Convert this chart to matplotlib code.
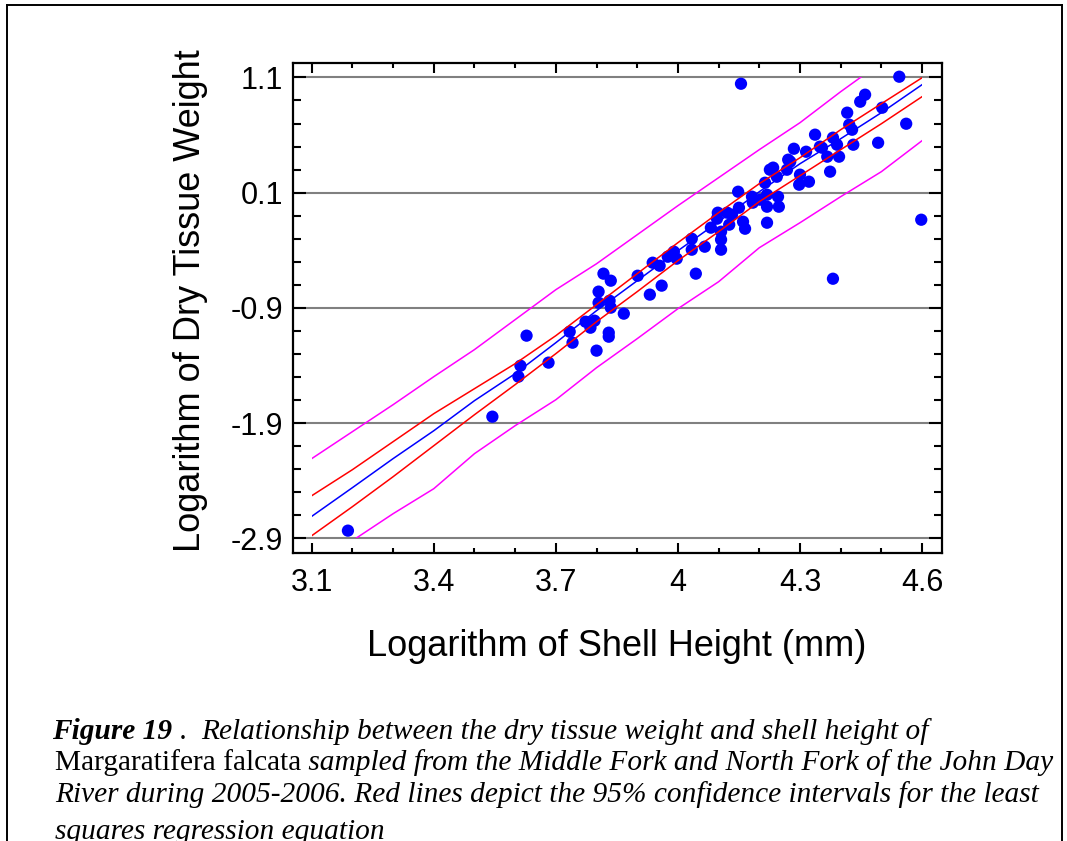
import matplotlib
matplotlib.use('Agg')
import matplotlib.pyplot as plt
from matplotlib.lines import Line2D
from matplotlib.patches import Rectangle
from matplotlib.ticker import FixedLocator, MultipleLocator

# log shell height (mm) and log dry tissue weight
shell_height = [
    3.189, 3.544, 3.628, 3.613, 3.608, 3.682, 3.734, 3.741, 3.773, 3.785,
    3.795, 3.800, 3.805, 3.805, 3.817, 3.835, 3.832, 3.835, 3.830, 3.830,
    3.867, 3.901, 3.931, 3.938, 3.955, 3.960, 3.975, 3.990, 3.997, 4.034,
    4.034, 4.044, 4.066, 4.081, 4.096, 4.106, 4.106, 4.106, 4.098, 4.121,
    4.133, 4.148, 4.150, 4.160, 4.165, 4.155, 4.182, 4.184, 4.202, 4.214,
    4.219, 4.219, 4.219, 4.226, 4.234, 4.246, 4.248, 4.243, 4.268, 4.271,
    4.276, 4.285, 4.298, 4.300, 4.315, 4.322, 4.337, 4.349, 4.354, 4.367,
    4.374, 4.381, 4.391, 4.396, 4.381, 4.416, 4.421, 4.428, 4.431, 4.448,
    4.460, 4.492, 4.502, 4.544, 4.561, 4.598, 4.126,
]
dry_weight = [
    -2.833, -1.844, -1.141, -1.402, -1.497, -1.375, -1.107, -1.202, -1.020, -1.072,
    -1.011, -1.271, -0.759, -0.855, -0.603, -0.664, -0.838, -0.898, -1.115, -1.150,
    -0.950, -0.621, -0.785, -0.508, -0.534, -0.707, -0.456, -0.412, -0.473, -0.300,
    -0.395, -0.603, -0.369, -0.204, -0.126, -0.239, -0.308, -0.395, -0.074, -0.074,
    -0.091, 0.108, -0.031, -0.152, -0.213, 1.045, 0.065, 0.013, 0.039, 0.186,
    0.082, -0.022, -0.161, 0.299, 0.317, 0.065, -0.022, 0.238, 0.299, 0.386,
    0.369, 0.481, 0.169, 0.256, 0.455, 0.195, 0.603, 0.499, 0.490, 0.412,
    0.282, 0.577, 0.516, 0.412, -0.647, 0.794, 0.690, 0.646, 0.516, 0.889,
    0.950, 0.533, 0.837, 1.106, 0.698, -0.135, -0.178,
]

# fitted line and bands, read at every 0.1 of x
line_x = [3.1, 3.2, 3.3, 3.4, 3.5, 3.6, 3.7, 3.8, 3.9, 4.0, 4.1, 4.2, 4.3, 4.4, 4.5, 4.6]
fit_y = [-2.709, -2.460, -2.208, -1.966, -1.705, -1.471, -1.202, -0.924,
         -0.664, -0.404, -0.152, 0.108, 0.351, 0.568, 0.794, 1.037]
ci_upper = [-2.530, -2.304, -2.061, -1.818, -1.601, -1.384, -1.141, -0.872,
            -0.603, -0.334, -0.074, 0.178, 0.403, 0.646, 0.872, 1.097]
ci_lower = [-2.877, -2.625, -2.365, -2.096, -1.827, -1.566, -1.297, -1.020,
            -0.759, -0.490, -0.239, 0.022, 0.247, 0.473, 0.698, 0.933]
pi_upper = [-2.208, -1.974, -1.740, -1.497, -1.262, -1.002, -0.742, -0.517,
            -0.265, -0.013, 0.230, 0.473, 0.707, 0.976, 1.230, 1.480]
pi_lower = [-3.137, -2.920, -2.686, -2.469, -2.165, -1.922, -1.697, -1.419,
            -1.167, -0.907, -0.673, -0.378, -0.161, 0.065, 0.282, 0.551]

x_ticks = [3.1, 3.4, 3.7, 4.0, 4.3, 4.6]
x_tick_labels = ['3.1', '3.4', '3.7', '4', '4.3', '4.6']
y_ticks = [-2.9, -1.9, -0.9, 0.1, 1.1]
y_tick_labels = ['-2.9', '-1.9', '-0.9', '0.1', '1.1']

W, H = 1067, 841
fig = plt.figure(figsize=(W / 100, H / 100), dpi=100)
ax = fig.add_axes([293 / W, 1 - 553 / H, (942 - 293) / W, (553 - 63) / H])

ax.set_xlim(3.054, 4.649)
ax.set_ylim(-3.027, 1.225)

for yv in y_ticks:
    ax.axhline(yv, color='#808080', lw=1.5, zorder=1)

ax.scatter(shell_height, dry_weight, s=78, color='#0000ff', edgecolors='none', zorder=3)

clip = Rectangle((3.1, -2.9), 1.5, 4.0, transform=ax.transData)
for ys, col in [(pi_upper, '#ff00ff'), (pi_lower, '#ff00ff'),
                (ci_upper, '#ff0000'), (ci_lower, '#ff0000'), (fit_y, '#0000ff')]:
    ln, = ax.plot(line_x, ys, color=col, lw=1.1, zorder=4)
    ln.set_clip_path(clip)

ax.xaxis.set_major_locator(FixedLocator(x_ticks))
ax.set_xticklabels(x_tick_labels)
ax.xaxis.set_minor_locator(MultipleLocator(0.1))
ax.yaxis.set_major_locator(FixedLocator(y_ticks))
ax.set_yticklabels(y_tick_labels)
ax.yaxis.set_minor_locator(FixedLocator([-2.7, -2.5, -2.3, -2.1, -1.7, -1.5, -1.3, -1.1,
                                         -0.7, -0.5, -0.3, -0.1, 0.3, 0.5, 0.7, 0.9]))

ax.tick_params(which='both', direction='in', top=True, right=True, width=1.5,
               labelsize=22, colors='black')
ax.tick_params(axis='x', which='major', length=7.5, pad=11)
ax.tick_params(axis='x', which='minor', length=3.8)
ax.tick_params(axis='y', which='major', length=9.5, pad=7)
ax.tick_params(axis='y', which='minor', length=5.5)
for lab in ax.get_xticklabels() + ax.get_yticklabels():
    lab.set_fontfamily('Liberation Sans')
for sp in ax.spines.values():
    sp.set_linewidth(1.6)

fig.text(617 / W, 1 - 647 / H, 'Logarithm of Shell Height (mm)', ha='center', va='center',
         fontsize=26, family='Liberation Sans')
fig.text(190 / W, 1 - 301 / H, 'Logarithm of Dry Tissue Weight', ha='center', va='center',
         rotation=90, fontsize=26, family='Liberation Sans')

# page frame
for xs, ys in [([7, 7], [5, H]), ([7, 1062], [5, 5]), ([1062, 1062], [5, H])]:
    fig.add_artist(Line2D([x / W for x in xs], [1 - y / H for y in ys],
                          color='black', lw=1.4))

# caption, pieces laid out one after another
renderer = fig.canvas.get_renderer()


def caption_line(x_px, y_px, pieces):
    x = x_px
    for text, weight, style in pieces:
        t = fig.text(x / W, 1 - y_px / H, text, fontsize=21.2, family='Liberation Serif',
                     weight=weight, style=style, va='baseline', ha='left')
        x += t.get_window_extent(renderer).width


caption_line(52, 739, [('Figure 19', 'bold', 'italic'), (' .  ', 'normal', 'normal'),
                       ('Relationship between the dry tissue weight and shell height of',
                        'normal', 'italic')])
caption_line(55, 770, [('Margaratifera falcata', 'normal', 'normal'),
                       (' sampled from the Middle Fork and North Fork of the John Day',
                        'normal', 'italic')])
caption_line(55, 802, [('River during 2005-2006. Red lines depict the 95% confidence '
                        'intervals for the least', 'normal', 'italic')])
caption_line(55, 839, [('squares regression equation', 'normal', 'italic')])

fig.savefig('out.png', dpi=100)
